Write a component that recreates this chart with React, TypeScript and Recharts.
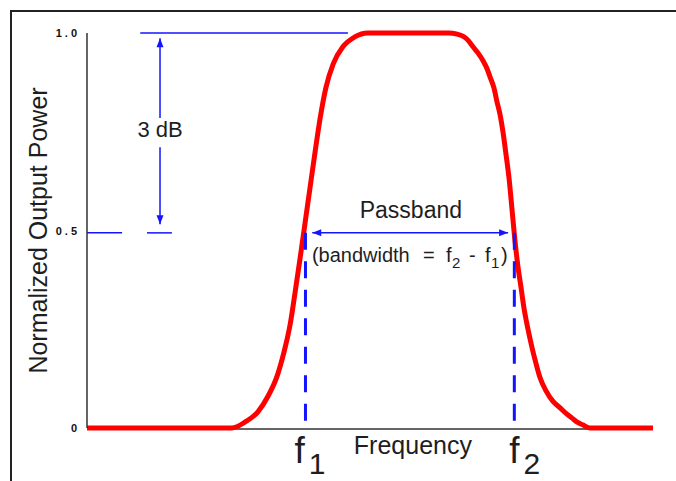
import React from 'react';
import { LineChart, Line, XAxis, YAxis, ReferenceLine, ReferenceDot } from 'recharts';

// Frequency (arbitrary units, 0..100) and normalized output power
const CURVE_FREQ = [0, 25.6, 27.9, 30.2, 32.0, 33.6, 34.8, 35.9, 36.7, 37.6, 38.5, 39.4, 40.3, 41.2, 42.2, 43.5, 45.2, 47.3, 49.6, 63.8, 65.4, 66.4, 67.3, 68.2, 69.1, 70.0, 70.7, 71.2, 71.9, 72.4, 73.0, 73.5, 74.0, 74.6, 75.1, 75.6, 76.1, 76.7, 77.2, 77.9, 78.6, 79.3, 80.0, 81.1, 82.3, 83.6, 84.8, 85.7, 86.6, 87.6, 88.9, 100];
const CURVE_POWER = [0, 0, 0.015, 0.041, 0.081, 0.132, 0.192, 0.263, 0.337, 0.425, 0.516, 0.608, 0.699, 0.785, 0.861, 0.922, 0.965, 0.990, 1.0, 1.0, 0.997, 0.992, 0.982, 0.965, 0.949, 0.929, 0.909, 0.889, 0.861, 0.828, 0.792, 0.749, 0.696, 0.628, 0.552, 0.476, 0.413, 0.354, 0.304, 0.251, 0.205, 0.165, 0.129, 0.094, 0.068, 0.051, 0.035, 0.025, 0.015, 0.008, 0, 0];

const Y_TICKS = [0, 0.5, 1];
const Y_TICK_LABELS = ['0', '0.5', '1.0'];
const X_TICKS = [38.6, 75.5]; // f1, f2
const X_TICK_SUBS = ['1', '2'];

const HALF_POWER = 0.494;
const AXIS_END = 94.5;
const DB_X = 12.9;
const TOP_LINE = [9.4, 46.1];
const HALF_DASHES = [[0, 6.2], [10.6, 15.0]];
const PASSBAND_ARROW = [39.8, 74.4];
const DB_ARROW_UP = [0.785, 0.987];
const DB_ARROW_DOWN = [0.711, 0.516];
const DB_LABEL_Y = 0.737;
const PASSBAND_LABEL_Y = 0.532;
const BANDWIDTH_LABEL_Y = 0.421;

const DATA = CURVE_FREQ.map((f, i) => ({ f, p: CURVE_POWER[i] }));
const MID = (X_TICKS[0] + X_TICKS[1]) / 2;

const BLUE = '#1414ff';
const TEXT = '#1e1e1e';
const FONT = "'Liberation Sans', Arial, sans-serif";

function arrowShape(startHead: boolean, endHead: boolean, width: number) {
  return (props: any) => {
    const { x1, y1, x2, y2 } = props;
    const ang = Math.atan2(y2 - y1, x2 - x1);
    const L = 9;
    const W = 3.5;
    const head = (x: number, y: number, a: number) => {
      const bx = x - L * Math.cos(a);
      const by = y - L * Math.sin(a);
      const px = -Math.sin(a) * W;
      const py = Math.cos(a) * W;
      return `${x},${y} ${bx + px},${by + py} ${bx - px},${by - py}`;
    };
    return (
      <g>
        <line x1={x1} y1={y1} x2={x2} y2={y2} stroke={BLUE} strokeWidth={width} />
        {endHead && <polygon points={head(x2, y2, ang)} fill={BLUE} />}
        {startHead && <polygon points={head(x1, y1, ang + Math.PI)} fill={BLUE} />}
      </g>
    );
  };
}

const axisShape = (props: any) => {
  const { x1, y1, x2, y2 } = props;
  return <line x1={x1} y1={y1 + 1} x2={x2} y2={y2 + 1} stroke="#333" strokeWidth={1.5} />;
};

const YTick = (props: any) => {
  const { x, y, payload } = props;
  const label = Y_TICK_LABELS[Y_TICKS.indexOf(payload.value)];
  return (
    <text x={x + 3} y={y} dy={4} textAnchor="end" fontSize={11} fontWeight="bold" letterSpacing={3} fill="#111" fontFamily={FONT}>
      {label}
    </text>
  );
};

const XTick = (props: any) => {
  const { x, y, payload } = props;
  const idx = X_TICKS.indexOf(payload.value);
  const shift = idx === 0 ? -11 : -5;
  return (
    <text x={x + shift} y={y + 35} fontSize={37} fill={TEXT} fontFamily={FONT}>
      f
      <tspan dx={4} dy={11} fontSize={30}>
        {X_TICK_SUBS[idx]}
      </tspan>
    </text>
  );
};

const YLabel = (props: any) => {
  const vb = props.viewBox || { x: 0, y: 33, width: 87, height: 395 };
  const x = vb.x + 47;
  const y = vb.y + vb.height / 2;
  return (
    <text x={x} y={y} transform={`rotate(-90 ${x} ${y})`} textAnchor="middle" fontSize={25} fill={TEXT} fontFamily={FONT}>
      Normalized Output Power
    </text>
  );
};

const textDot = (render: (cx: number, cy: number) => React.ReactNode) => (props: any) => <g>{render(props.cx, props.cy)}</g>;

export default function App() {
  return (
    <div style={{ position: 'absolute', left: 0, top: 0, width: 676, height: 481, background: '#fff', overflow: 'hidden' }}>
      <div
        style={{
          position: 'absolute',
          left: 10,
          top: 10,
          width: 700,
          height: 500,
          borderLeft: '2px solid #222',
          borderTop: '2px solid #222',
        }}
      />
      <div style={{ position: 'absolute', left: 0, top: 0 }}>
        <LineChart width={676} height={481} data={DATA} margin={{ top: 33, right: 23, bottom: 0, left: 0 }}>
          <XAxis
            type="number"
            dataKey="f"
            domain={[0, 100]}
            ticks={X_TICKS}
            interval={0}
            axisLine={false}
            tickLine={false}
            tickSize={0}
            tickMargin={0}
            height={53}
            tick={<XTick />}
          />
          <YAxis
            type="number"
            domain={[0, 1]}
            ticks={Y_TICKS}
            interval={0}
            width={87}
            tickSize={0}
            tickMargin={10}
            tickLine={false}
            axisLine={{ stroke: '#333', strokeWidth: 1.5 }}
            tick={<YTick />}
            label={<YLabel />}
          />
          <ReferenceLine
            segment={[{ x: 0, y: 0 }, { x: AXIS_END, y: 0 }]}
            shape={axisShape}
            ifOverflow="visible"
            zIndex={300}
          />
          <Line
            dataKey="p"
            type="monotone"
            stroke="#ff0000"
            strokeWidth={5}
            dot={false}
            activeDot={false}
            isAnimationActive={false}
            strokeLinejoin="round"
          />
          {X_TICKS.map((fx) => (
            <ReferenceLine
              key={`v${fx}`}
              segment={[{ x: fx, y: HALF_POWER }, { x: fx, y: 0 }]}
              stroke={BLUE}
              strokeWidth={3}
              strokeDasharray="17 11.5"
              ifOverflow="visible"
              zIndex={500}
            />
          ))}
          <ReferenceLine
            segment={[{ x: TOP_LINE[0], y: 1 }, { x: TOP_LINE[1], y: 1 }]}
            stroke={BLUE}
            strokeWidth={1.5}
            ifOverflow="visible"
            zIndex={500}
          />
          {HALF_DASHES.map((d, i) => (
            <ReferenceLine
              key={`h${i}`}
              segment={[{ x: d[0], y: HALF_POWER }, { x: d[1], y: HALF_POWER }]}
              stroke={BLUE}
              strokeWidth={1.5}
              ifOverflow="visible"
              zIndex={500}
            />
          ))}
          <ReferenceLine
            segment={[{ x: PASSBAND_ARROW[0], y: HALF_POWER }, { x: PASSBAND_ARROW[1], y: HALF_POWER }]}
            shape={arrowShape(true, true, 1.5)}
            ifOverflow="visible"
            zIndex={500}
          />
          <ReferenceLine
            segment={[{ x: DB_X, y: DB_ARROW_UP[0] }, { x: DB_X, y: DB_ARROW_UP[1] }]}
            shape={arrowShape(false, true, 1.5)}
            ifOverflow="visible"
            zIndex={500}
          />
          <ReferenceLine
            segment={[{ x: DB_X, y: DB_ARROW_DOWN[0] }, { x: DB_X, y: DB_ARROW_DOWN[1] }]}
            shape={arrowShape(false, true, 1.5)}
            ifOverflow="visible"
            zIndex={500}
          />
          <ReferenceDot
            x={DB_X}
            y={DB_LABEL_Y}
            r={1}
            ifOverflow="visible"
            zIndex={600}
            shape={textDot((cx, cy) => (
              <text x={cx} y={cy} textAnchor="middle" fontSize={22} fill={TEXT} fontFamily={FONT}>
                3 dB
              </text>
            ))}
          />
          <ReferenceDot
            x={MID}
            y={PASSBAND_LABEL_Y}
            r={1}
            ifOverflow="visible"
            zIndex={600}
            shape={textDot((cx, cy) => (
              <text x={cx + 1} y={cy} textAnchor="middle" fontSize={23} fill={TEXT} fontFamily={FONT}>
                Passband
              </text>
            ))}
          />
          <ReferenceDot
            x={MID}
            y={BANDWIDTH_LABEL_Y}
            r={1}
            ifOverflow="visible"
            zIndex={600}
            shape={textDot((cx, cy) => (
              <text y={cy} fontSize={20} fill={TEXT} fontFamily={FONT}>
                <tspan x={cx - 98}>(bandwidth</tspan>
                <tspan x={cx + 13}>=</tspan>
                <tspan x={cx + 36}>f</tspan>
                <tspan x={cx + 42} dy={6} fontSize={15}>2</tspan>
                <tspan x={cx + 59} dy={-6}>-</tspan>
                <tspan x={cx + 75}>f</tspan>
                <tspan x={cx + 81} dy={6} fontSize={15}>1</tspan>
                <tspan x={cx + 91} dy={-6}>)</tspan>
              </text>
            ))}
          />
          <ReferenceDot
            x={MID}
            y={0}
            r={1}
            ifOverflow="visible"
            zIndex={600}
            shape={textDot((cx, cy) => (
              <text x={cx + 3} y={cy + 26} textAnchor="middle" fontSize={25} fill={TEXT} fontFamily={FONT}>
                Frequency
              </text>
            ))}
          />
        </LineChart>
      </div>
    </div>
  );
}
